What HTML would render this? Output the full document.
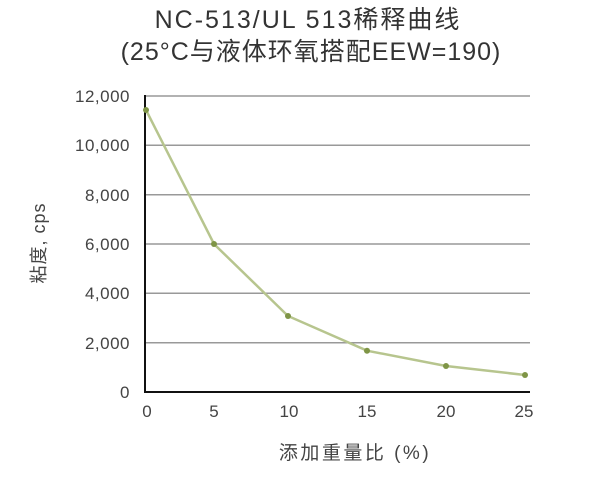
<!DOCTYPE html>
<html><head><meta charset="utf-8"><style>
html,body{margin:0;padding:0;background:#fff;width:600px;height:500px;overflow:hidden}
text{font-family:"Liberation Sans","Noto Sans CJK SC",sans-serif;fill:#444}
</style></head><body>
<svg width="600" height="500" xmlns="http://www.w3.org/2000/svg">
<text x="308" y="28" font-size="25" text-anchor="middle" letter-spacing="2" style="fill:#333">NC-513/UL 513稀释曲线</text>
<text x="311" y="60" font-size="25" text-anchor="middle" letter-spacing="1" style="fill:#333">(25°C与液体环氧搭配EEW=190)</text>
<g stroke="#999" stroke-width="1.5">
<line x1="146" y1="96" x2="530" y2="96"/>
<line x1="146" y1="145.3" x2="530" y2="145.3"/>
<line x1="146" y1="194.7" x2="530" y2="194.7"/>
<line x1="146" y1="244" x2="530" y2="244"/>
<line x1="146" y1="293.3" x2="530" y2="293.3"/>
<line x1="146" y1="342.7" x2="530" y2="342.7"/>
</g>
<line x1="145" y1="95" x2="145" y2="393" stroke="#111" stroke-width="2"/>
<line x1="144" y1="392" x2="530" y2="392" stroke="#111" stroke-width="2"/>
<g font-size="17" text-anchor="end" letter-spacing="0.5">
<text x="130" y="102">12,000</text>
<text x="130" y="151">10,000</text>
<text x="130" y="201">8,000</text>
<text x="130" y="250">6,000</text>
<text x="130" y="299">4,000</text>
<text x="130" y="349">2,000</text>
<text x="130" y="398">0</text>
</g>
<g font-size="17" text-anchor="middle">
<text x="147" y="417">0</text>
<text x="214" y="417">5</text>
<text x="289" y="417">10</text>
<text x="367" y="417">15</text>
<text x="446" y="417">20</text>
<text x="524" y="417">25</text>
</g>
<text x="355" y="459" font-size="19" text-anchor="middle" letter-spacing="2.5">添加重量比 (%)</text>
<text transform="translate(45,243) rotate(-90)" font-size="18" text-anchor="middle" letter-spacing="1">粘度, cps</text>
<polyline points="146,110 214,244 288,316 367,350.7 446,366 525,375" fill="none" stroke="#b7c58e" stroke-width="2.5"/>
<g fill="#7f9546">
<circle cx="146" cy="110" r="3"/><circle cx="214" cy="244" r="3"/><circle cx="288" cy="316" r="3"/>
<circle cx="367" cy="350.7" r="3"/><circle cx="446" cy="366" r="3"/><circle cx="525" cy="375" r="3"/>
</g>
</svg>
</body></html>
